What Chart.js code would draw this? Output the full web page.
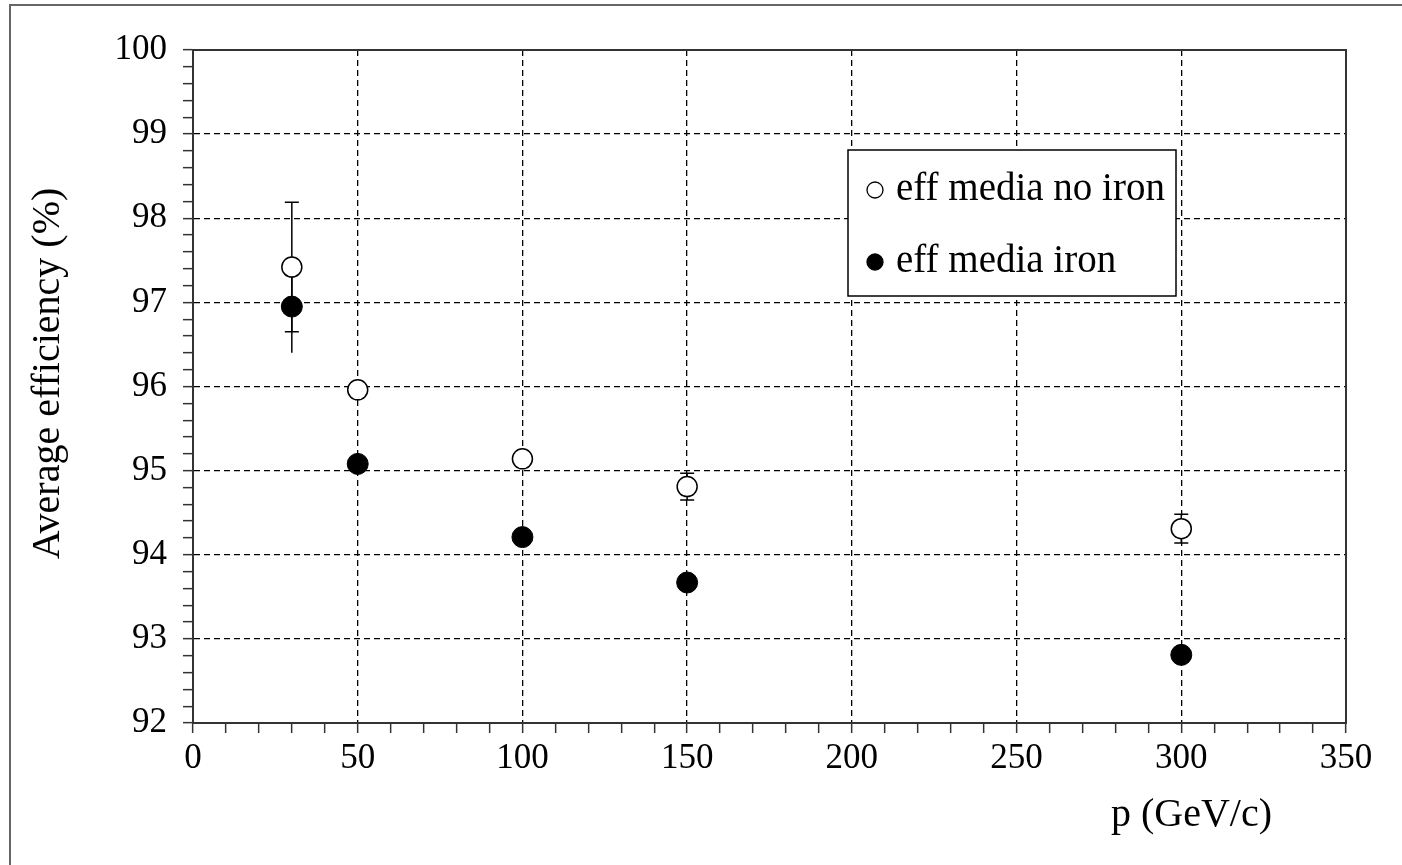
<!DOCTYPE html>
<html>
<head>
<meta charset="utf-8">
<script src="https://cdn.jsdelivr.net/npm/chart.js@4"></script>
<style>
  html, body { margin: 0; padding: 0; background: #fff; overflow: hidden; }
  #wrap { position: relative; width: 1402px; height: 865px; }
  #frame { position: absolute; left: 9px; top: 4px; width: 1500px; height: 1000px; border: 2px solid #666; pointer-events: none; }
</style>
</head>
<body>
<div id="wrap">
  <canvas id="effChart"></canvas>
  <div id="frame"></div>
</div>
<script>
// momentum values (GeV/c)
const pValues = [30, 50, 100, 150, 300];

// average efficiency (%) and error bars
const effNoIron = [97.42, 95.96, 95.14, 94.81, 94.31];
const errNoIron = [0.77, 0.08, 0.08, 0.16, 0.17];
const effIron = [96.95, 95.08, 94.21, 93.67, 92.81];
const errIron = [0.55, 0.05, 0.05, 0.05, 0.05];

const seriesLabels = ["eff media no iron", "eff media iron"];

// axis ranges
const xMin = 0, xMax = 350, xMajor = 50, xMinor = 10;
const yMin = 92, yMax = 100, yMajor = 1, yMinor = 0.2;

const FONT = "'Liberation Serif', 'Times New Roman', serif";

function isMajor(v, step) {
  const r = v / step;
  return Math.abs(r - Math.round(r)) < 1e-6;
}

function toPoints(xs, ys, errs) {
  return xs.map((x, i) => ({ x, y: ys[i], err: errs[i] }));
}

// error bars drawn behind the markers
const errorBars = {
  id: "errorBars",
  beforeDatasetsDraw(chart) {
    const ctx = chart.ctx;
    const xs = chart.scales.x, ys = chart.scales.y;
    chart.data.datasets.forEach(ds => {
      ctx.save();
      ctx.strokeStyle = "#000";
      ctx.lineWidth = 1.5;
      ds.data.forEach(pt => {
        const px = xs.getPixelForValue(pt.x);
        const top = ys.getPixelForValue(pt.y + pt.err);
        const bot = ys.getPixelForValue(pt.y - pt.err);
        ctx.beginPath();
        ctx.moveTo(px, top);
        ctx.lineTo(px, bot);
        if (ds.capHalf) {
          ctx.moveTo(px - ds.capHalf, top);
          ctx.lineTo(px + ds.capHalf, top);
          ctx.moveTo(px - ds.capHalf, bot);
          ctx.lineTo(px + ds.capHalf, bot);
        }
        ctx.stroke();
      });
      ctx.restore();
    });
  }
};

// plot frame, axis titles and the boxed legend
const decorations = {
  id: "decorations",
  afterDraw(chart) {
    const ctx = chart.ctx;
    const ca = chart.chartArea;
    ctx.save();

    ctx.strokeStyle = "#333";
    ctx.lineWidth = 2;
    ctx.strokeRect(ca.left, ca.top, ca.right - ca.left, ca.bottom - ca.top);

    ctx.fillStyle = "#000";
    ctx.font = "40px " + FONT;
    ctx.textAlign = "right";
    ctx.textBaseline = "middle";
    ctx.fillText("p (GeV/c)", ca.right - 74, ca.bottom + 92);

    ctx.save();
    ctx.translate(48, (ca.top + ca.bottom) / 2 - 13);
    ctx.rotate(-Math.PI / 2);
    ctx.textAlign = "center";
    ctx.fillText("Average efficiency (%)", 0, 0);
    ctx.restore();

    // legend box
    const lx = ca.left + 655, ly = ca.top + 100, lw = 328, lh = 146;
    ctx.fillStyle = "#fff";
    ctx.fillRect(lx, ly, lw, lh);
    ctx.strokeStyle = "#000";
    ctx.lineWidth = 1.5;
    ctx.strokeRect(lx, ly, lw, lh);

    chart.data.datasets.forEach((ds, i) => {
      const cy = ly + 40 + i * 72;
      ctx.beginPath();
      ctx.arc(lx + 27, cy, 8, 0, Math.PI * 2);
      ctx.fillStyle = ds.pointBackgroundColor;
      ctx.fill();
      ctx.lineWidth = 1.3;
      ctx.strokeStyle = "#000";
      ctx.stroke();
      ctx.fillStyle = "#000";
      ctx.textAlign = "left";
      ctx.textBaseline = "middle";
      ctx.font = "39px " + FONT;
      ctx.fillText(ds.label, lx + 48, cy);
    });

    ctx.restore();
  }
};

const ctx = document.getElementById("effChart").getContext("2d");

new Chart(ctx, {
  type: "scatter",
  data: {
    datasets: [
      {
        label: seriesLabels[0],
        data: toPoints(pValues, effNoIron, errNoIron),
        pointRadius: 10,
        pointHoverRadius: 10,
        pointBackgroundColor: "#fff",
        pointBorderColor: "#000",
        pointBorderWidth: 1.5,
        capHalf: 7
      },
      {
        label: seriesLabels[1],
        data: toPoints(pValues, effIron, errIron),
        pointRadius: 10.5,
        pointHoverRadius: 10.5,
        pointBackgroundColor: "#000",
        pointBorderColor: "#000",
        pointBorderWidth: 1,
        capHalf: 0
      }
    ]
  },
  options: {
    responsive: true,
    maintainAspectRatio: false,
    animation: false,
    layout: { padding: { top: 50, right: 56, left: 0, bottom: 0 } },
    plugins: {
      legend: { display: false },
      tooltip: { enabled: false }
    },
    scales: {
      x: {
        type: "linear",
        min: xMin,
        max: xMax,
        afterFit: s => { s.height = 142; },
        ticks: {
          stepSize: xMinor,
          autoSkip: false,
          maxRotation: 0,
          padding: 5,
          color: "#000",
          font: { family: FONT, size: 35 },
          callback: v => isMajor(v, xMajor) ? v : ""
        },
        grid: {
          color: c => c.tick && isMajor(c.tick.value, xMajor) ? "#000" : "rgba(0,0,0,0)",
          lineWidth: 1.3,
          tickColor: "#333",
          tickLength: 10,
          tickWidth: 1.5
        },
        border: { display: true, color: "#333", width: 2, dash: [6, 4] }
      },
      y: {
        type: "linear",
        min: yMin,
        max: yMax,
        afterFit: s => { s.width = 193; },
        ticks: {
          stepSize: yMinor,
          autoSkip: false,
          padding: 16,
          color: "#000",
          font: { family: FONT, size: 35 },
          callback: v => isMajor(v, yMajor) ? Math.round(v) : ""
        },
        grid: {
          color: c => c.tick && isMajor(c.tick.value, yMajor) ? "#000" : "rgba(0,0,0,0)",
          lineWidth: 1.3,
          tickColor: "#333",
          tickLength: 10,
          tickWidth: 1.5
        },
        border: { display: true, color: "#333", width: 2, dash: [6, 4] }
      }
    }
  },
  plugins: [errorBars, decorations]
});
</script>
</body>
</html>
